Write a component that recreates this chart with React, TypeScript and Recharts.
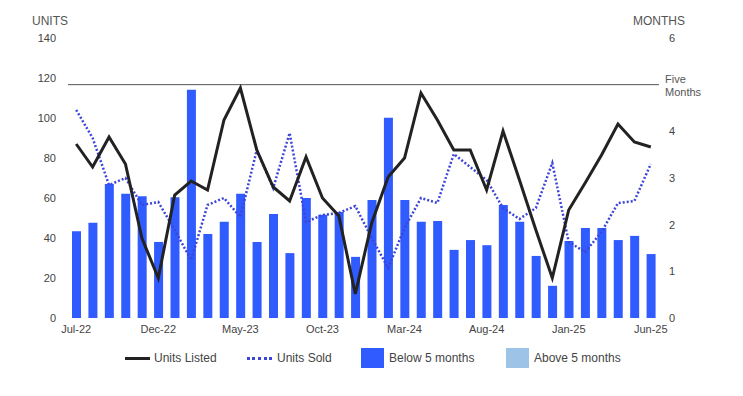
import React from "react";
import {
  ComposedChart,
  Bar,
  Line,
  XAxis,
  YAxis,
  Cell,
  ReferenceLine,
} from "recharts";

const months = [
  "Jul-22", "Aug-22", "Sep-22", "Oct-22", "Nov-22", "Dec-22",
  "Jan-23", "Feb-23", "Mar-23", "Apr-23", "May-23", "Jun-23",
  "Jul-23", "Aug-23", "Sep-23", "Oct-23", "Nov-23", "Dec-23",
  "Jan-24", "Feb-24", "Mar-24", "Apr-24", "May-24", "Jun-24",
  "Jul-24", "Aug-24", "Sep-24", "Oct-24", "Nov-24", "Dec-24",
  "Jan-25", "Feb-25", "Mar-25", "Apr-25", "May-25", "Jun-25",
];

const unitsListed = [
  87, 75.5, 90.5, 77, 40, 20, 61.5, 68.5, 64, 99, 115, 84,
  65.5, 58.5, 80.5, 60, 51, 12, 47.5, 70.5, 80, 112.5, 99, 84,
  84, 64, 93.5, 69, 44, 20, 54, 67.5, 81.5, 97, 88, 85.5,
];

const unitsSold = [
  104, 90, 66.5, 70, 56.5, 58, 44, 29, 56.5, 60, 50.5, 84,
  65, 92.5, 48, 51.5, 52.5, 56, 40, 25, 45, 60, 57.5, 82,
  75.5, 69, 55, 49.5, 55, 77.5, 38, 33, 43, 57.5, 58.5, 77,
];

// months of supply (right axis)
const monthsSupply = [
  1.86, 2.04, 2.87, 2.66, 2.61, 1.63, 2.59, 4.89, 1.8, 2.06, 2.66, 1.63,
  2.23, 1.39, 2.57, 2.21, 2.27, 1.31, 2.53, 4.29, 2.53, 2.06, 2.08, 1.46,
  1.67, 1.56, 2.42, 2.06, 1.33, 0.69, 1.65, 1.93, 1.93, 1.67, 1.76, 1.37,
];

const unitTicks = [0, 20, 40, 60, 80, 100, 120, 140];
const monthTicks = [0, 1, 2, 3, 4, 5, 6];
const threshold = 5;

const BELOW = "#2f5bff";
const ABOVE = "#9dc3e6";
const SOLD = "#3d45d8";
const LISTED = "#222222";
const FONT = "'Liberation Sans', Arial, sans-serif";

const data = months.map((m, i) => ({
  month: m,
  listed: unitsListed[i],
  sold: unitsSold[i],
  supply: monthsSupply[i],
}));

function FiveLabel(props: any) {
  const vb = props.viewBox || {};
  const x = (vb.x || 0) + (vb.width || 0) + 6;
  const y = vb.y || 0;
  return (
    <text x={x} y={y} fill="#555" fontSize={11} fontFamily={FONT}>
      <tspan x={x} dy={-2}>Five</tspan>
      <tspan x={x} dy={13}>Months</tspan>
    </text>
  );
}

function LegendRow() {
  const txt: React.CSSProperties = {
    position: "absolute",
    top: 351,
    fontSize: 12,
    color: "#444",
    fontFamily: FONT,
    lineHeight: "14px",
  };
  return (
    <>
      <div style={{ position: "absolute", left: 125, top: 357, width: 25, height: 3, background: LISTED }} />
      <span style={{ ...txt, left: 154 }}>Units Listed</span>
      <div
        style={{
          position: "absolute",
          left: 247,
          top: 357,
          width: 25,
          height: 0,
          borderTop: `3px dotted ${SOLD}`,
        }}
      />
      <span style={{ ...txt, left: 277 }}>Units Sold</span>
      <div style={{ position: "absolute", left: 361, top: 348, width: 23, height: 20, background: BELOW }} />
      <span style={{ ...txt, left: 389 }}>Below 5 months</span>
      <div style={{ position: "absolute", left: 506, top: 348, width: 23, height: 20, background: ABOVE }} />
      <span style={{ ...txt, left: 534 }}>Above 5 months</span>
    </>
  );
}

export default function App() {
  return (
    <div style={{ position: "relative", width: 743, height: 396, margin: -8, background: "#fff" }}>
      <div style={{ position: "absolute", left: 32, top: 14, fontSize: 12, color: "#555", fontFamily: FONT }}>UNITS</div>
      <div style={{ position: "absolute", left: 633, top: 14, fontSize: 12, color: "#555", fontFamily: FONT }}>MONTHS</div>
      <ComposedChart
        width={743}
        height={396}
        data={data}
        margin={{ top: 38, right: 24, left: 8, bottom: 48 }}
        barCategoryGap="45%"
      >
        <XAxis
          dataKey="month"
          interval={4}
          axisLine={false}
          tickLine={false}
          height={30}
          tick={{ fontSize: 11, fill: "#444", fontFamily: FONT }}
          tickMargin={1}
        />
        <YAxis
          yAxisId="units"
          orientation="left"
          domain={[0, 140]}
          ticks={unitTicks}
          width={60}
          axisLine={false}
          tickLine={false}
          tick={{ fontSize: 11, fill: "#444", fontFamily: FONT }}
          tickMargin={6}
        />
        <YAxis
          yAxisId="months"
          orientation="right"
          domain={[0, 6]}
          ticks={monthTicks.filter((t) => t !== threshold)}
          width={60}
          axisLine={false}
          tickLine={false}
          tick={{ fontSize: 11, fill: "#444", fontFamily: FONT }}
          tickMargin={4}
        />
        <ReferenceLine
          yAxisId="months"
          y={threshold}
          stroke="#555"
          strokeWidth={1}
          label={<FiveLabel />}
        />
        <Bar yAxisId="months" dataKey="supply" barSize={9} isAnimationActive={false}>
          {data.map((d, i) => (
            <Cell key={i} fill={d.supply < threshold ? BELOW : ABOVE} />
          ))}
        </Bar>
        <Line
          yAxisId="units"
          type="linear"
          dataKey="sold"
          stroke={SOLD}
          strokeWidth={2.5}
          strokeDasharray="2 2"
          dot={false}
          isAnimationActive={false}
        />
        <Line
          yAxisId="units"
          type="linear"
          dataKey="listed"
          stroke={LISTED}
          strokeWidth={3}
          dot={false}
          isAnimationActive={false}
        />
      </ComposedChart>
      <LegendRow />
    </div>
  );
}
